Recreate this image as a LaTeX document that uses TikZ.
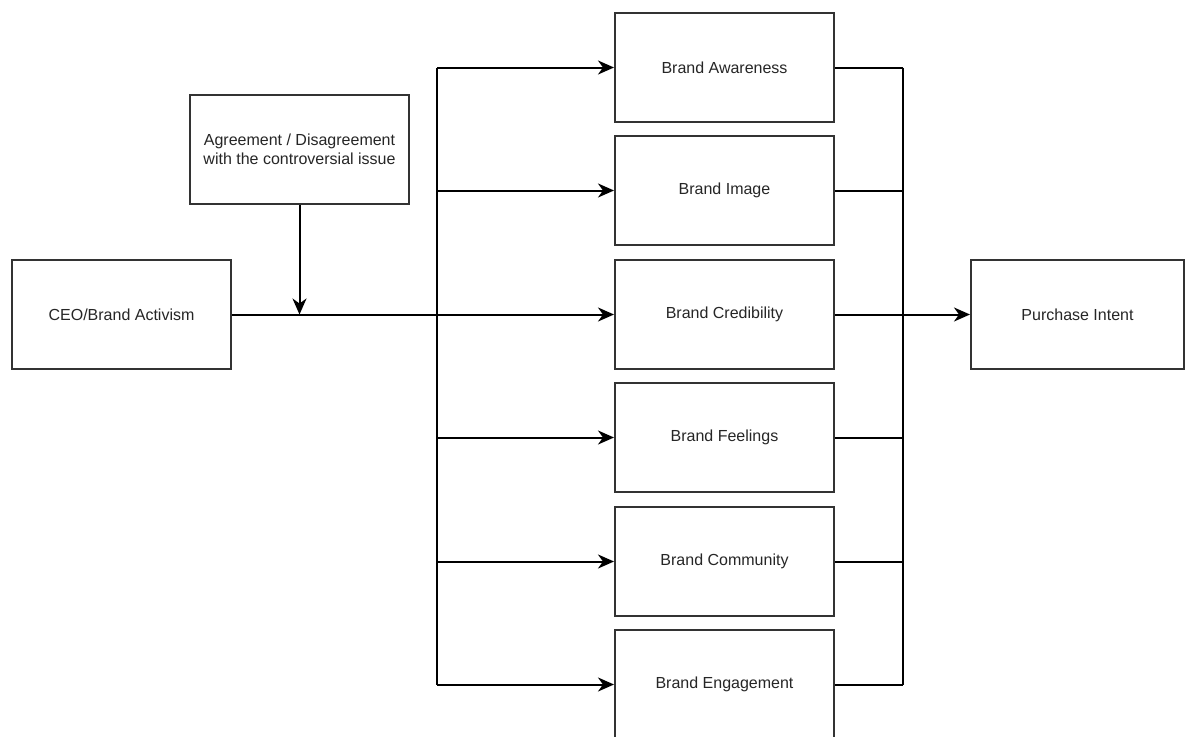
\documentclass[tikz,border=0pt]{standalone}
\usepackage{fontspec}
\setmainfont{Liberation Sans}
\usetikzlibrary{arrows.meta}
\begin{document}
\begin{tikzpicture}[x=1pt,y=-1pt,
  box/.style={draw=black!80,line width=2pt,fill=white,minimum width=219pt,minimum height=109pt,inner sep=0pt,align=center,font=\fontsize{16}{19}\selectfont,text=black!85},
  conn/.style={draw=black,line width=2pt},
  arr/.style={conn,-{Stealth[length=16pt,width=14pt,inset=5pt]}}]
\clip (0,0) rectangle (1185,736);
\fill[white] (0,0) rectangle (1185,736);
\node[box] (ceo) at (121.5,314.5) {CEO/Brand Activism};
\node[box] (agr) at (299.5,149.5) {Agreement / Disagreement\\with the controversial issue};
\node[box] (aw) at (724.5,67.5) {Brand Awareness};
\node[box] (im) at (724.5,190.5) {Brand Image};
\node[box] (cr) at (724.5,314.5) {Brand Credibility};
\node[box] (fe) at (724.5,437.5) {Brand Feelings};
\node[box] (co) at (724.5,561.5) {Brand Community};
\node[box] (en) at (724.5,684.5) {Brand Engagement};
\node[box,minimum width=213pt] (pi) at (1077.5,314.5) {Purchase Intent};
\coordinate (tt) at (437,67.5);
\coordinate (tb) at (437,684.5);
\coordinate (rt) at (903,67.5);
\coordinate (rb) at (903,684.5);
\draw[conn] (tt) -- (tb);
\draw[conn] (rt) -- (rb);
\draw[conn] (ceo.east) -- (tt |- ceo.east);
\foreach \n in {aw,im,cr,fe,co,en}{
  \draw[arr] (tt |- \n.west) -- (\n.west);
  \draw[conn] (\n.east) -- (rt |- \n.east);
}
\draw[arr] (rt |- pi.west) -- (pi.west);
\draw[arr] (agr.south) -- (agr.south |- ceo.east);
\end{tikzpicture}
\end{document}
